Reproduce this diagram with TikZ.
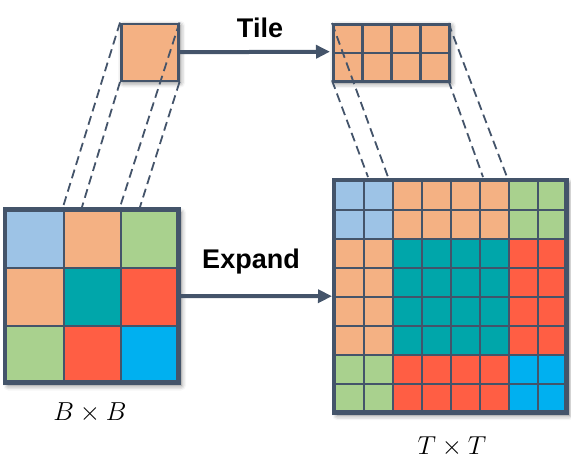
\RequirePackage{fix-cm}
\documentclass[tikz,border=0pt]{standalone}
\usepackage{fontspec}
\setsansfont{Liberation Sans}
\usetikzlibrary{arrows.meta,shadows.blur}

\definecolor{edge}{RGB}{68,84,106}
\definecolor{c00}{RGB}{157,195,230}
\definecolor{c01}{RGB}{244,177,131}
\definecolor{c02}{RGB}{169,209,142}
\definecolor{c10}{RGB}{244,177,131}
\definecolor{c11}{RGB}{0,166,170}
\definecolor{c12}{RGB}{255,94,68}
\definecolor{c20}{RGB}{169,209,142}
\definecolor{c21}{RGB}{255,94,68}
\definecolor{c22}{RGB}{0,176,240}

\begin{document}
\begin{tikzpicture}[
        x=1pt, y=-1pt,
        cell/.style={
            rectangle,
            anchor=north west,
            inner sep=0pt,
            draw=edge,
            line width=2pt,
            fill=#1
        },
        frame/.style={
            rectangle,
            anchor=north west,
            inner sep=0pt,
            fill=white,
            blur shadow={shadow xshift=3pt, shadow yshift=-3pt,
                shadow blur radius=5pt, shadow opacity=55}
        },
        border/.style={
            draw=edge,
            line width=4.8pt
        },
        flow/.style={
            -{Triangle[length=14pt,width=13pt]},
            line width=4pt,
            draw=edge,
            shorten >=2pt
        },
        proj/.style={
            draw=edge,
            line width=1.8pt,
            dash pattern=on 9pt off 5pt
        },
        lbl/.style={
            font=\fontsize{27}{30}\selectfont\sffamily\bfseries
        },
        dim/.style={
            font=\fontsize{26}{30}\selectfont
        }
    ]
    \useasboundingbox (0,0) rectangle (571,466);

    % B x B grid
    \node[frame, minimum width=172.8pt, minimum height=172.8pt] (bgrid) at (5,209.5) {};
    \foreach \r in {0,1,2} {
        \foreach \c in {0,1,2} {
            \node[cell=c\r\c, minimum size=57.6pt] (b\r\c) at (5+57.6*\c, 209.5+57.6*\r) {};
        }
    }
    \draw[border] (bgrid.north west) rectangle (bgrid.south east);

    % T x T grid
    \node[frame, minimum width=232pt, minimum height=232pt] (tgrid) at (334,180) {};
    \foreach \r in {0,...,7} {
        \foreach \c in {0,...,7} {
            \pgfmathtruncatemacro\br{(\r>1)+(\r>5)}
            \pgfmathtruncatemacro\bc{(\c>1)+(\c>5)}
            \node[cell=c\br\bc, minimum size=29pt] (t\r\c) at (334+29*\c, 180+29*\r) {};
        }
    }
    \draw[border] (tgrid.north west) rectangle (tgrid.south east);

    % single block and its tile
    \node[frame, minimum size=57pt] (blkbg) at (120,22.5) {};
    \node[cell=c01, minimum size=57pt, line width=2.5pt] (blk) at (120,22.5) {};

    \node[frame, minimum width=116pt, minimum height=57pt] (tile) at (332,23) {};
    \foreach \r in {0,1} {
        \foreach \c in {0,...,3} {
            \node[cell=c01, minimum width=29pt, minimum height=28.5pt, line width=2.5pt] (s\r\c) at (332+29*\c, 23+28.5*\r) {};
        }
    }

    % projection lines
    \coordinate (p1) at (63,207);
    \coordinate (p2) at (82,207);
    \coordinate (p3) at (120,207);
    \coordinate (p4) at (140,207);
    \draw[proj] (blk.north west) -- (p1);
    \draw[proj] (blk.south west) -- (p2);
    \draw[proj] (blk.north east) -- (p3);
    \draw[proj] (blk.south east) -- (p4);

    \coordinate (q1) at (388,177);
    \coordinate (q2) at (368,177);
    \coordinate (q3) at (507,177);
    \coordinate (q4) at (483,177);
    \draw[proj] (tile.north west) -- (q1);
    \draw[proj] (tile.south west) -- (q2);
    \draw[proj] (tile.north east) -- (q3);
    \draw[proj] (tile.south east) -- (q4);

    % arrows
    \draw[flow] (blk.east) -- (tile.west);
    \node[lbl] (tilelbl) at (260,28) {Tile};
    \draw[flow] (bgrid.east) -- (tgrid.west);
    \node[lbl] (explbl) at (251,262) {Expand};

    \node[dim] (bxb) at (90,413) {$B\times B$};
    \node[dim] (txt) at (452,447) {$T\times T$};

    \end{tikzpicture}
\end{document}
